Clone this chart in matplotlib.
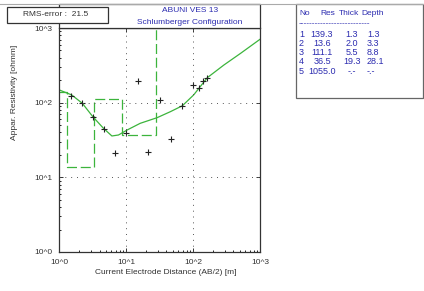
import numpy as np
import matplotlib
matplotlib.use('Agg')
import matplotlib.pyplot as plt
from matplotlib.patches import Rectangle
from matplotlib.lines import Line2D

plt.rcParams['font.family'] = ['Liberation Sans', 'DejaVu Sans']

# --- data -------------------------------------------------------------
ab2_obs = [1.51, 2.19, 3.17, 4.63, 6.85, 10.0, 14.8, 21.2, 31.8, 46.9,
           68.8, 101, 122, 142, 164]
rho_obs = [124, 97.5, 64.3, 44.0, 21.0, 38.9, 196, 22.0, 108, 32.9,
           88.9, 172, 157, 195, 216]

ab2_calc = [1.0, 1.53, 2.21, 3.17, 4.57, 6.11, 7.67, 10.3, 16.2, 28.9,
            45.7, 69.2, 102, 163, 288, 513, 1000]
rho_calc = [148, 127, 98, 64.9, 45.4, 35.8, 36.9, 43.0, 52.9, 62.9,
            75.7, 91.0, 127, 216, 319, 458, 706]

layer_no = [1, 2, 3, 4, 5]
layer_res = [139.3, 13.6, 111.1, 36.5, 1055.0]
layer_thick = ['1.3', '2.0', '5.5', '19.3', '-.-']
layer_depth = ['1.3', '3.3', '8.8', '28.1', '-.-']
depth_vals = [1.3, 3.3, 8.8, 28.1]

x_ticks = [1, 10, 100, 1000]
x_ticklabels = ['10^0', '10^1', '10^2', '10^3']
y_ticks = [1, 10, 100, 1000]
y_ticklabels = ['10^0', '10^1', '10^2', '10^3']

rms_error = 21.5

# --- figure ------------------------------------------------------------
W, H = 424, 291
fig = plt.figure(figsize=(W / 100, H / 100), dpi=100)


def fx(x):
    return x / W


def fy(y):
    return 1 - y / H


BLUE = '#2c2cb0'
GREEN = '#3cb43c'
FS = 6
FS_TAB = 6.5

ax_l, ax_r, ax_t, ax_b = 59.3, 260, 28, 252
ax = fig.add_axes([fx(ax_l), fy(ax_b), fx(ax_r - ax_l), (ax_b - ax_t) / H])

# model step (dashed), from the layer table
step_x = [1.0] + depth_vals + [1000]
step_y = layer_res + [layer_res[-1]]
ax.plot(step_x, step_y, drawstyle='steps-post', color=GREEN,
        linewidth=0.9, dashes=(8, 3))

# calculated curve
ax.plot(ab2_calc, rho_calc, color=GREEN, linewidth=0.9)

# field data
ax.plot(ab2_obs, rho_obs, linestyle='none', marker='+', color='#222222',
        markersize=5, markeredgewidth=0.8)

ax.set_xscale('log')
ax.set_yscale('log')
ax.set_xlim(1, 1000)
ax.set_ylim(1, 1000)
ax.set_xticks(x_ticks)
ax.set_xticklabels(x_ticklabels)
ax.set_yticks(y_ticks)
ax.set_yticklabels(y_ticklabels)

ax.tick_params(which='major', direction='in', length=3, width=0.7,
               top=True, right=True, labelsize=FS, colors='#333333',
               pad=5)
ax.tick_params(which='minor', direction='in', length=1.5, width=0.6,
               bottom=True, left=True, top=False, right=False)
for s in ax.spines.values():
    s.set_color('#333333')
    s.set_linewidth(0.9)

for v in [10, 100]:
    ax.axhline(v, color='#555555', linewidth=0.7, linestyle=(0, (1, 5)))
    ax.axvline(v, color='#555555', linewidth=0.7, linestyle=(0, (1, 5)))

fig.text(fx(166), fy(273), 'Current Electrode Distance (AB/2) [m]',
         ha='center', va='center', fontsize=FS, color='#333333')
fig.text(fx(15), fy(92), 'Appar. Resistivity [ohmm]', rotation=90,
         ha='center', va='center', fontsize=FS, color='#333333')

# top gray line
fig.add_artist(Line2D([0, 1], [fy(4), fy(4)], transform=fig.transFigure,
                      color='#aaaaaa', linewidth=0.8))

# title box above the axes
fig.add_artist(Rectangle((fx(ax_l), fy(ax_t)), fx(ax_r - ax_l),
                         (ax_t - 4) / H, transform=fig.transFigure,
                         facecolor='white', edgecolor='#333333',
                         linewidth=0.9))
fig.text(fx(190), fy(11), 'ABUNI VES 13', ha='center', va='center',
         fontsize=FS, color=BLUE)
fig.text(fx(190), fy(22.5), 'Schlumberger Configuration', ha='center',
         va='center', fontsize=FS, color=BLUE)

# RMS box
fig.add_artist(Rectangle((fx(7), fy(23)), fx(101), 16 / H,
                         transform=fig.transFigure, facecolor='white',
                         edgecolor='#333333', linewidth=0.9, zorder=5))
fig.text(fx(56), fy(15), f'RMS-error :  {rms_error}', ha='center',
         va='center', fontsize=FS, color='#333333', zorder=6)

# layer table
fig.add_artist(Rectangle((fx(296), fy(98)), fx(127), 94 / H,
                         transform=fig.transFigure, facecolor='white',
                         edgecolor='#666666', linewidth=0.9))
fig.text(fx(299), fy(13.3), 'No', ha='left', va='center', fontsize=FS,
         color=BLUE)
fig.text(fx(320), fy(13.3), 'Res', ha='left', va='center',
         fontsize=FS, color=BLUE)
fig.text(fx(339), fy(13.3), 'Thick', ha='left', va='center',
         fontsize=FS, color=BLUE)
fig.text(fx(361), fy(13.3), 'Depth', ha='left', va='center',
         fontsize=FS, color=BLUE)
fig.text(fx(299), fy(24), '-' * 26, ha='left', va='center', fontsize=FS,
         color=BLUE)

row_y = [34.3, 43.3, 52.7, 62.0, 71.3]
for i in range(5):
    y = fy(row_y[i])
    fig.text(fx(299), y, str(layer_no[i]), ha='left', va='center',
             fontsize=FS_TAB, color=BLUE)
    fig.text(fx(322), y, f'{layer_res[i]:.1f}', ha='center', va='center',
             fontsize=FS_TAB, color=BLUE)
    fig.text(fx(352), y, layer_thick[i], ha='center', va='center',
             fontsize=FS_TAB, color=BLUE)
    fig.text(fx(367), y, layer_depth[i], ha='left', va='center',
             fontsize=FS_TAB, color=BLUE)

fig.savefig('out.png', dpi=100)
